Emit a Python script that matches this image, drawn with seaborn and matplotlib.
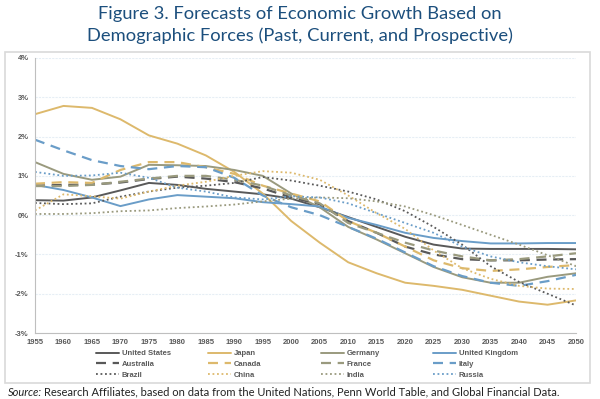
import matplotlib
matplotlib.use("Agg")
import matplotlib.pyplot as plt
import seaborn as sns
import pandas as pd
from matplotlib.patches import Rectangle

years = list(range(1955, 2051, 5))

us = [0.38, 0.37, 0.45, 0.63, 0.82, 0.77, 0.67, 0.6, 0.53, 0.42, 0.2, -0.05, -0.3, -0.55, -0.75, -0.85, -0.86, -0.86, -0.86, -0.87]
japan = [2.57, 2.78, 2.73, 2.44, 2.03, 1.82, 1.52, 1.1, 0.55, -0.15, -0.7, -1.2, -1.48, -1.72, -1.8, -1.9, -2.05, -2.2, -2.28, -2.17]
germany = [1.35, 1.05, 0.9, 0.98, 1.28, 1.27, 1.25, 1.15, 1.0, 0.55, 0.2, -0.3, -0.62, -0.97, -1.32, -1.58, -1.72, -1.72, -1.57, -1.48]
uk = [0.77, 0.64, 0.45, 0.23, 0.4, 0.51, 0.47, 0.43, 0.33, 0.28, 0.22, -0.07, -0.25, -0.45, -0.58, -0.66, -0.72, -0.72, -0.71, -0.71]
australia = [0.75, 0.77, 0.78, 0.83, 0.92, 0.98, 0.93, 0.84, 0.68, 0.45, 0.28, -0.15, -0.45, -0.8, -1.0, -1.12, -1.15, -1.15, -1.13, -1.12]
canada = [0.8, 0.84, 0.82, 1.15, 1.35, 1.35, 1.22, 1.05, 0.75, 0.55, 0.35, -0.15, -0.45, -0.8, -1.15, -1.35, -1.42, -1.38, -1.32, -1.27]
france = [0.74, 0.74, 0.77, 0.85, 0.93, 1.0, 1.0, 0.9, 0.75, 0.5, 0.3, -0.2, -0.45, -0.7, -0.9, -1.05, -1.15, -1.12, -1.05, -0.97]
italy = [1.92, 1.65, 1.4, 1.25, 1.17, 1.25, 1.22, 0.95, 0.5, 0.2, 0.0, -0.3, -0.6, -0.95, -1.3, -1.55, -1.72, -1.8, -1.68, -1.52]
brazil = [0.31, 0.28, 0.3, 0.47, 0.6, 0.7, 0.75, 0.82, 0.97, 0.88, 0.75, 0.6, 0.4, 0.1, -0.3, -0.75, -1.3, -1.7, -2.0, -2.3]
china = [0.12, 0.53, 0.48, 0.42, 0.6, 0.75, 0.85, 1.0, 1.12, 1.08, 0.9, 0.5, 0.05, -0.35, -0.9, -1.35, -1.62, -1.8, -1.87, -1.88]
india = [0.03, 0.03, 0.05, 0.1, 0.12, 0.18, 0.22, 0.27, 0.35, 0.42, 0.45, 0.43, 0.35, 0.22, 0.0, -0.25, -0.5, -0.75, -1.02, -1.3]
russia = [1.1, 1.0, 1.01, 1.08, 0.95, 0.7, 0.6, 0.45, 0.4, 0.48, 0.45, 0.3, 0.05, -0.2, -0.45, -0.8, -1.05, -1.2, -1.3, -1.38]

countries = ["United States", "Japan", "Germany", "United Kingdom",
             "Australia", "Canada", "France", "Italy",
             "Brazil", "China", "India", "Russia"]
series = [us, japan, germany, uk, australia, canada, france, italy,
          brazil, china, india, russia]

c_gray = "#595959"
c_gold = "#ddb96c"
c_olive = "#9a9a7e"
c_blue = "#6a9dc8"
colors = [c_gray, c_gold, c_olive, c_blue] * 3
styles = ["-"] * 4 + [(0, (4.5, 3))] * 4 + [(0, (1, 1.5))] * 4
widths = [1.4] * 4 + [1.6] * 4 + [1.3] * 4

rows = []
for name, vals in zip(countries, series):
    for y, v in zip(years, vals):
        rows.append({"year": y, "growth": v, "country": name})
df = pd.DataFrame(rows)

sns.set_style("white")
plt.rcParams["font.family"] = ["Liberation Sans", "DejaVu Sans"]

fig = plt.figure(figsize=(6, 3.99), dpi=100)
ax = fig.add_axes([35 / 600, 66 / 399, 541 / 600, 275 / 399])

# chart frame
fig.patches.append(Rectangle((5 / 600, 16 / 399), 585 / 600, 331 / 399,
                             transform=fig.transFigure, fill=False,
                             edgecolor="#d9d9d9", linewidth=1.2))

for i, name in enumerate(countries):
    sub = df[df["country"] == name]
    sns.lineplot(data=sub, x="year", y="growth", ax=ax, color=colors[i],
                 linewidth=widths[i], label=name, linestyle=styles[i])

ax.set_xlim(1955, 2050)
ax.set_ylim(-3, 4)
ax.set_xticks(years)
ax.set_xticklabels([str(y) for y in years])
ax.set_yticks(range(-3, 5))
ax.set_yticklabels([f"{v}%" for v in range(-3, 5)])
ax.tick_params(axis="both", labelsize=5.5, colors=c_gray, length=2.5, width=0.6, pad=2)
for lab in ax.get_xticklabels() + ax.get_yticklabels():
    lab.set_fontweight("bold")
ax.set_xlabel("")
ax.set_ylabel("")
ax.grid(axis="y", color="#e6eef5", linewidth=0.8, linestyle=(0, (2, 1)))
for s in ["top", "right"]:
    ax.spines[s].set_visible(False)
ax.spines["left"].set_color("#bfbfbf")
ax.spines["bottom"].set_color("#bfbfbf")
ax.spines["left"].set_linewidth(0.8)
ax.spines["bottom"].set_linewidth(0.8)

handles, labels = ax.get_legend_handles_labels()
ax.get_legend().remove()
# one legend per column, evenly spaced like the original
col_x = [96, 208, 321, 433]
for c in range(4):
    idx = [c, c + 4, c + 8]
    leg = fig.legend([handles[i] for i in idx], [labels[i] for i in idx],
                     loc="upper left", bbox_to_anchor=(col_x[c] / 600, 1 - 350 / 399),
                     frameon=False, borderpad=0, borderaxespad=0,
                     prop={"size": 5.5, "weight": "bold"}, labelcolor=c_gray,
                     handlelength=3.0, handletextpad=0.4, labelspacing=0.45)

title_color = "#1c4f7d"
fig.text(0.5, 1 - 14 / 399, "Figure 3. Forecasts of Economic Growth Based on",
         ha="center", va="center", fontsize=13.2, color=title_color,
         family=["Lato", "DejaVu Sans"])
fig.text(0.5, 1 - 36 / 399, "Demographic Forces (Past, Current, and Prospective)",
         ha="center", va="center", fontsize=13.2, color=title_color,
         family=["Lato", "DejaVu Sans"])

t1 = fig.text(8 / 600, 1 - 392 / 399, "Source:", ha="left", va="center",
              fontsize=8.0, style="italic", color="#222222",
              family=["Lato", "DejaVu Sans"])
fig.canvas.draw()
bb = t1.get_window_extent()
fig.text(bb.x1 / fig.bbox.width + 2 / 600, 1 - 392 / 399,
         "Research Affiliates, based on data from the United Nations, Penn World Table, and Global Financial Data.",
         ha="left", va="center", fontsize=8.0, color="#222222",
         family=["Lato", "DejaVu Sans"])

fig.savefig("out.png", dpi=100)
